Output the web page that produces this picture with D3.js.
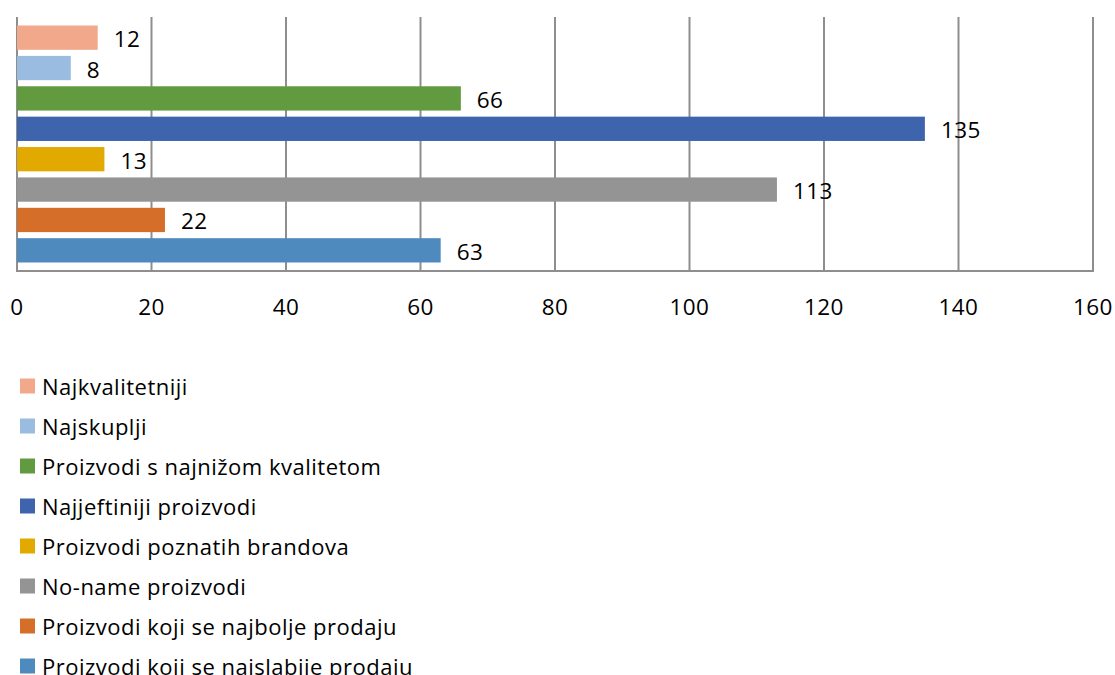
<!DOCTYPE html>
<html><head><meta charset="utf-8">
<script src="https://cdn.jsdelivr.net/npm/d3@7"></script>
<style>body{margin:0;background:#fff}svg{display:block}</style>
</head><body>
<script>
const categories = ["Najkvalitetniji","Najskuplji","Proizvodi s najnižom kvalitetom","Najjeftiniji proizvodi","Proizvodi poznatih brandova","No-name proizvodi","Proizvodi koji se najbolje prodaju","Proizvodi koji se najslabije prodaju"];
const values = [12, 8, 66, 135, 13, 113, 22, 63];
const colors = ["#F2A98B","#9BBCE1","#629B3F","#3D64AD","#E2AA00","#949494","#D56E29","#4F8ABE"];
const xTicks = [0,20,40,60,80,100,120,140,160];

const W=1115,H=675;
const font="'Open Sans', sans-serif";
const svg=d3.select("body").append("svg").attr("width",W).attr("height",H);
const x=d3.scaleLinear().domain([0,160]).range([17,1093]);
const y=d3.scaleBand().domain(categories).range([17,271]).paddingInner(0.2).paddingOuter(0.28);

// gridlines
svg.append("g").selectAll("line").data(xTicks).join("line")
  .attr("x1",d=>x(d)).attr("x2",d=>x(d)).attr("y1",17).attr("y2",271)
  .attr("stroke","#8e8e8e").attr("stroke-width",2);
// bottom axis line
svg.append("line").attr("x1",x(0)-1).attr("x2",x(160)+1).attr("y1",271).attr("y2",271)
  .attr("stroke","#8e8e8e").attr("stroke-width",2);

// bars
svg.append("g").selectAll("rect").data(values).join("rect")
  .attr("x",x(0)).attr("y",(d,i)=>y(categories[i]))
  .attr("width",d=>x(d)-x(0)).attr("height",y.bandwidth())
  .attr("fill",(d,i)=>colors[i]);

// value labels
svg.append("g").selectAll("text").data(values).join("text")
  .attr("x",d=>x(d)+16).attr("y",(d,i)=>y(categories[i])+y.bandwidth()/2+1)
  .attr("dominant-baseline","central").attr("letter-spacing",0.4)
  .attr("font-family",font).attr("font-size",22.5).attr("fill","#000")
  .text(d=>d);

// tick labels
svg.append("g").selectAll("text").data(xTicks).join("text")
  .attr("x",d=>x(d)).attr("y",306).attr("text-anchor","middle")
  .attr("dominant-baseline","central").attr("letter-spacing",0.4)
  .attr("font-family",font).attr("font-size",22.5).attr("fill","#000")
  .text(d=>d);

// legend
const lg=svg.append("g").selectAll("g").data(categories).join("g")
  .attr("transform",(d,i)=>`translate(20,${386+i*40})`);
lg.append("rect").attr("x",0).attr("y",-7.5).attr("width",15).attr("height",15)
  .attr("fill",(d,i)=>colors[i]);
lg.append("text").attr("x",22).attr("y",0).attr("dominant-baseline","central")
  .attr("font-family",font).attr("font-size",22).attr("letter-spacing",0.5).attr("fill","#000")
  .text(d=>d);
</script>
</body></html>
